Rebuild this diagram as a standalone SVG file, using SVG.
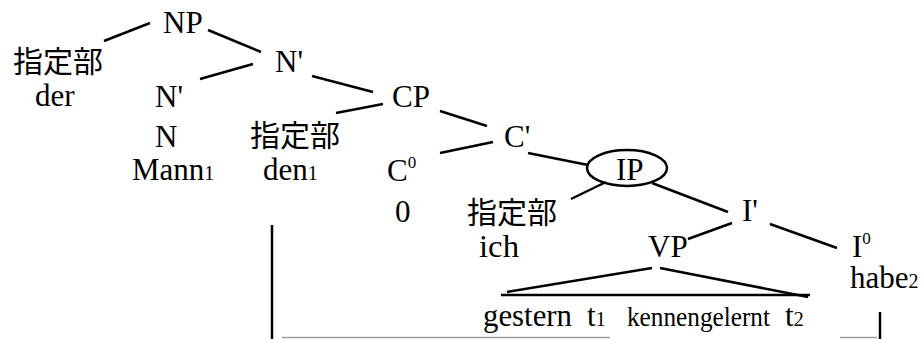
<svg xmlns="http://www.w3.org/2000/svg" width="923" height="339" viewBox="0 0 923 339">
<style>
.t{font-family:"Liberation Serif","Times New Roman",serif;font-size:31px;fill:#000}
.j{font-family:"Noto Sans CJK JP","Noto Sans CJK SC",sans-serif;font-size:30px;fill:#000}
.sub{font-size:20px}
.sup{font-size:17px}
.e line{stroke:#000;stroke-width:2.5;stroke-linecap:butt}
.e line.g{stroke:#a0a0a0;stroke-width:1.5}
</style>
<rect width="923" height="339" fill="#fff"/>
<g id="connectors" class="e">
<line x1="104" y1="41" x2="150" y2="23"/>
<line x1="208" y1="30" x2="261" y2="52"/>
<line x1="200" y1="79" x2="253" y2="64"/>
<line x1="312" y1="76" x2="373" y2="92"/>
<line x1="336" y1="113" x2="383" y2="104"/>
<line x1="440" y1="111" x2="487" y2="126"/>
<line x1="440" y1="153" x2="493" y2="142"/>
<line x1="528" y1="153" x2="588" y2="165"/>
<line x1="571" y1="199" x2="606" y2="182"/>
<line x1="652" y1="183" x2="728" y2="212"/>
<line x1="688" y1="239" x2="732" y2="223"/>
<line x1="770" y1="224" x2="837" y2="248"/>
<line x1="507" y1="292" x2="652" y2="268"/>
<line x1="660" y1="268" x2="808" y2="297"/>
<line x1="501" y1="295" x2="810" y2="295"/>
<line x1="272" y1="225" x2="272" y2="339"/>
<line x1="880" y1="312" x2="880" y2="339"/>
<line class="g" x1="282" y1="337.5" x2="610" y2="337.5"/>
<line class="g" x1="840" y1="337.5" x2="877" y2="337.5"/>
</g>
<g id="np"><text class="t" x="163" y="33">NP</text></g>
<g id="spec1"><text class="j" x="13" y="72">指定部</text></g>
<g id="der"><text class="t" x="35" y="106">der</text></g>
<g id="nbar1"><text class="t" x="275" y="72">N'</text></g>
<g id="nbar2"><text class="t" x="155" y="107">N'</text></g>
<g id="n"><text class="t" x="155" y="147">N</text></g>
<g id="mann"><text class="t" x="132" y="180">Mann<tspan class="sub">1</tspan></text></g>
<g id="spec2"><text class="j" x="250" y="146">指定部</text></g>
<g id="den"><text class="t" x="263" y="180">den<tspan class="sub">1</tspan></text></g>
<g id="cp"><text class="t" x="392" y="107">CP</text></g>
<g id="cbar"><text class="t" x="504" y="147">C'</text></g>
<g id="c0"><text class="t" x="387" y="181">C<tspan class="sup" dy="-13">0</tspan></text></g>
<g id="zero"><text class="t" x="395" y="222">0</text></g>
<g id="ip"><ellipse cx="627" cy="168" rx="40" ry="18" fill="none" stroke="#000" stroke-width="2.5"/><text class="t" x="616" y="180">IP</text></g>
<g id="spec3"><text class="j" x="467" y="223">指定部</text></g>
<g id="ich"><text class="t" x="479" y="257" textLength="40" lengthAdjust="spacingAndGlyphs">ich</text></g>
<g id="ibar"><text class="t" x="742" y="221">I'</text></g>
<g id="vp"><text class="t" x="648" y="257">VP</text></g>
<g id="i0"><text class="t" x="852" y="257">I<tspan class="sup" dy="-13">0</tspan></text></g>
<g id="habe"><text class="t" x="850" y="288">habe<tspan class="sub">2</tspan></text></g>
<g id="terminals">
<text class="t" x="483" y="326" textLength="89" lengthAdjust="spacingAndGlyphs">gestern</text>
<text class="t" x="587" y="326">t<tspan class="sub">1</tspan></text>
<text class="t" x="627" y="326" style="font-size:28px" textLength="143" lengthAdjust="spacingAndGlyphs">kennengelernt</text>
<text class="t" x="785" y="326">t<tspan class="sub">2</tspan></text>
</g>
</svg>
